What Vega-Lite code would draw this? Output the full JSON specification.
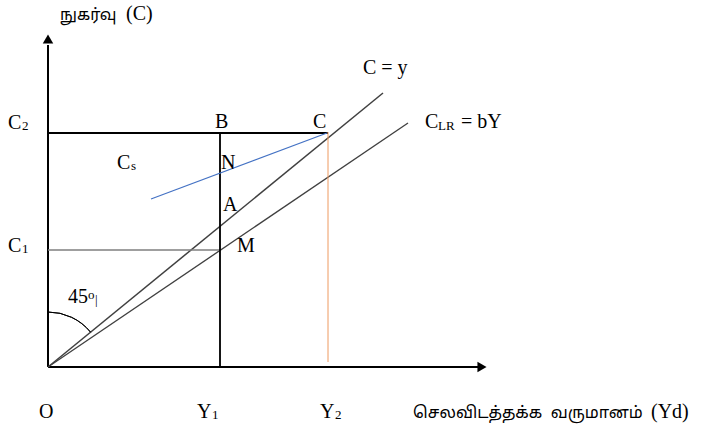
{
  "$schema": "https://vega.github.io/schema/vega-lite/v6.json",
  "width": 701,
  "height": 427,
  "padding": 0,
  "autosize": {"type": "none"},
  "background": "white",
  "config": {"view": {"stroke": null}},
  "datasets": {
    "segments": [
      {"series": "axis", "x": 0, "y": 0, "x2": 0, "y2": 322},
      {"series": "axis", "x": 0, "y": 0, "x2": 430, "y2": 0},
      {"series": "C=y", "x": 0, "y": 0, "x2": 335, "y2": 274},
      {"series": "CLR", "x": 0, "y": 0, "x2": 360, "y2": 244},
      {"series": "guide", "x": 0, "y": 234, "x2": 280, "y2": 234},
      {"series": "guide-gray", "x": 0, "y": 117, "x2": 172, "y2": 117},
      {"series": "guide", "x": 172, "y": 0, "x2": 172, "y2": 234},
      {"series": "Y2", "x": 280, "y": 5, "x2": 280, "y2": 235},
      {"series": "Cs", "x": 103, "y": 168, "x2": 279, "y2": 234}
    ],
    "arrows": [
      {"dir": "up", "x": 0, "y": 328},
      {"dir": "right", "x": 434, "y": 0}
    ],
    "angle": [
      {"x": 0, "y": 0}
    ],
    "labels": [
      {"x": -40, "y": 238, "t": "C"},
      {"x": 167, "y": 239, "t": "B"},
      {"x": 265, "y": 239, "t": "C"},
      {"x": 315, "y": 293, "t": "C = y"},
      {"x": 377, "y": 239, "t": "C"},
      {"x": 413, "y": 239, "t": "= bY"},
      {"x": 69, "y": 198, "t": "C"},
      {"x": 173, "y": 198, "t": "N"},
      {"x": 175, "y": 156, "t": "A"},
      {"x": 189, "y": 115, "t": "M"},
      {"x": -40, "y": 115, "t": "C"},
      {"x": 20, "y": 64, "t": "45"},
      {"x": -9, "y": -51, "t": "O"},
      {"x": 149, "y": -51, "t": "Y"},
      {"x": 272, "y": -51, "t": "Y"},
      {"x": 78, "y": 347, "t": "(C)"},
      {"x": 603, "y": -51, "t": "(Yd)"}
    ],
    "subs": [
      {"x": -26, "y": 237, "t": "2"},
      {"x": 390, "y": 237, "t": "LR"},
      {"x": 83, "y": 197, "t": "s"},
      {"x": -26, "y": 114, "t": "1"},
      {"x": 164, "y": -52, "t": "1"},
      {"x": 287, "y": -52, "t": "2"},
      {"x": 40, "y": 68, "t": "o"},
      {"x": 47, "y": 63, "t": "|"}
    ],
    "tamilTop": [
      {"x": 12, "y": 347, "t": "நுகர்வு"}
    ],
    "tamilBottom": [
      {"x": 365, "y": -51, "t": "செலவிடத்தக்க\u00a0\u00a0வருமானம்"}
    ]
  },
  "encoding": {
    "x": {"field": "x", "type": "quantitative", "scale": {"domain": [-48, 653], "nice": false, "zero": false}, "axis": null},
    "y": {"field": "y", "type": "quantitative", "scale": {"domain": [-60, 367], "nice": false, "zero": false}, "axis": null}
  },
  "layer": [
    {
      "data": {"name": "segments"},
      "mark": {"type": "rule"},
      "encoding": {
        "x2": {"field": "x2"},
        "y2": {"field": "y2"},
        "color": {"field": "series", "type": "nominal", "legend": null,
          "scale": {"domain": ["axis", "guide", "guide-gray", "C=y", "CLR", "Cs", "Y2"],
                    "range": ["#000000", "#000000", "#7f7f7f", "#404040", "#404040", "#4472C4", "#EE9A60"]}},
        "strokeWidth": {"field": "series", "type": "nominal", "legend": null,
          "scale": {"domain": ["axis", "guide", "guide-gray", "C=y", "CLR", "Cs", "Y2"],
                    "range": [2, 1, 1.5, 1, 1, 1.2, 1.2]}}
      }
    },
    {
      "data": {"name": "arrows"},
      "mark": {"type": "point", "filled": true, "color": "black", "opacity": 1, "size": 110},
      "encoding": {
        "shape": {"field": "dir", "type": "nominal", "legend": null,
          "scale": {"domain": ["up", "right"], "range": ["triangle-up", "triangle-right"]}}
      }
    },
    {
      "data": {"name": "angle"},
      "mark": {"type": "arc", "radius": 55, "radius2": 55, "theta": 0, "theta2": 0.885, "fill": null, "stroke": "black", "strokeWidth": 1}
    },
    {
      "data": {"name": "labels"},
      "mark": {"type": "text", "align": "left", "baseline": "alphabetic", "font": "Liberation Serif", "fontSize": 20, "color": "black"},
      "encoding": {"text": {"field": "t"}}
    },
    {
      "data": {"name": "subs"},
      "mark": {"type": "text", "align": "left", "baseline": "alphabetic", "font": "Liberation Serif", "fontSize": 13, "color": "black"},
      "encoding": {"text": {"field": "t"}}
    },
    {
      "data": {"name": "tamilTop"},
      "mark": {"type": "text", "align": "left", "baseline": "alphabetic", "font": "Noto Sans Tamil, Lohit Tamil, Latha, sans-serif", "fontSize": 16, "color": "black"},
      "encoding": {"text": {"field": "t"}}
    },
    {
      "data": {"name": "tamilBottom"},
      "mark": {"type": "text", "align": "left", "baseline": "alphabetic", "font": "Noto Sans Tamil, Lohit Tamil, Latha, sans-serif", "fontSize": 16.3, "color": "black"},
      "encoding": {"text": {"field": "t"}}
    }
  ]
}
